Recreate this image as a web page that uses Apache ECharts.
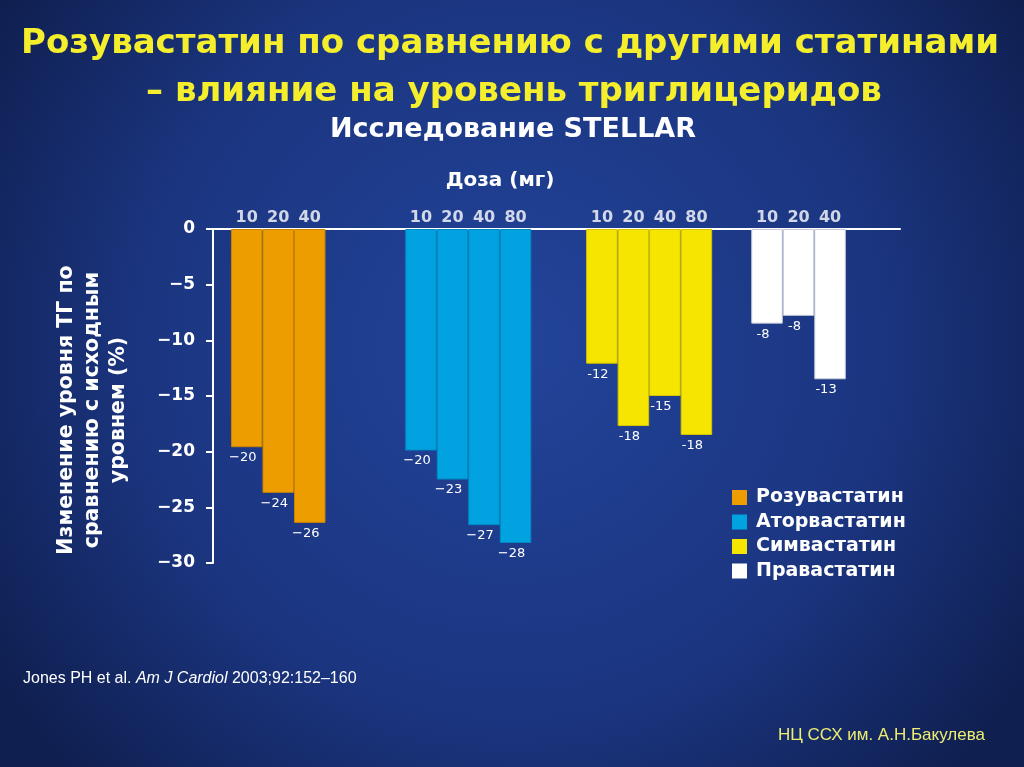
<!DOCTYPE html>
<html><head><meta charset="utf-8">
<script src="https://cdn.jsdelivr.net/npm/echarts@6/dist/echarts.min.js"></script>
<style>html,body{margin:0;padding:0;background:#14296a}#c{width:1024px;height:767px}</style>
</head><body><div id="c"></div>
<script>
// ---- data ----
const drugs = ['Розувастатин', 'Аторвастатин', 'Симвастатин', 'Правастатин'];
const rosuDoses = ['10', '20', '40'];
const atorDoses = ['10', '20', '40', '80'];
const simvaDoses = ['10', '20', '40', '80'];
const pravaDoses = ['10', '20', '40'];
const rosuValues = [-19.6, -23.7, -26.4];
const atorValues = [-19.9, -22.5, -26.6, -28.2];
const simvaValues = [-12.1, -17.7, -15.0, -18.5];
const pravaValues = [-8.5, -7.8, -13.5];
const rosuLabels = ['−20', '−24', '−26'];
const atorLabels = ['−20', '−23', '−27', '−28'];
const simvaLabels = ['-12', '-18', '-15', '-18'];
const pravaLabels = ['-8', '-8', '-13'];
const yTicks = [0, -5, -10, -15, -20, -25, -30];

// ---- layout / style ----
const colors = ['#EE9D00', '#00A3E0', '#F6E500', '#FFFFFF'];
const borders = ['#C98200', '#0089C4', '#D6C400', '#C8CCD8'];
const groupStart = [0.57, 6.10, 11.84, 17.08]; // in bar-width units
const xExtent = 21.8;
const allDoses = [rosuDoses, atorDoses, simvaDoses, pravaDoses];
const allValues = [rosuValues, atorValues, simvaValues, pravaValues];
const allLabels = [rosuLabels, atorLabels, simvaLabels, pravaLabels];

const chart = echarts.init(document.getElementById('c'));
const barSeries = drugs.map((name, g) => ({
  name, type: 'bar', barWidth: 31.5, barGap: '-100%',
  itemStyle: { color: colors[g], borderColor: borders[g], borderWidth: 1 },
  data: allValues[g].map((v, i) => [groupStart[g] + i + 0.5, v]),
  label: {
    show: true, position: 'bottom', distance: 4, offset: [-4, 0],
    color: '#fff', fontFamily: 'DejaVu Sans', fontSize: 13,
    formatter: p => allLabels[g][p.dataIndex]
  },
  silent: true, animation: false
}));
const doseData = [];
allDoses.forEach((ds, g) => ds.forEach((d, i) => doseData.push({ name: d, value: [groupStart[g] + i + 0.5, 0] })));

const shadow = { shadowColor: 'rgba(0,0,0,0.9)', shadowOffsetX: 2, shadowOffsetY: 2, shadowBlur: 2 };
chart.setOption({
  backgroundColor: {
    type: 'radial', x: 0.5, y: 0.45, r: 0.8,
    colorStops: [{ offset: 0, color: '#22449a' }, { offset: 0.6, color: '#1b3580' }, { offset: 1, color: '#0f1f50' }]
  },
  animation: false,
  grid: { left: 213, right: 124, top: 229, bottom: 204 },
  xAxis: {
    type: 'value', min: 0, max: xExtent,
    axisLine: { onZero: true, lineStyle: { color: '#fff', width: 2 } },
    axisTick: { show: false }, axisLabel: { show: false }, splitLine: { show: false }
  },
  yAxis: {
    type: 'value', min: -30, max: 0, interval: 5,
    axisLine: { show: true, lineStyle: { color: '#fff', width: 2 } },
    axisTick: { show: true, length: 7, lineStyle: { color: '#fff', width: 2 } },
    axisLabel: {
      color: '#fff', fontFamily: 'DejaVu Sans', fontWeight: 'bold', fontSize: 17, margin: 18,
      formatter: v => yTicks.includes(v) ? String(v).replace('-', '−') : ''
    },
    splitLine: { show: false }
  },
  legend: {
    orient: 'vertical', left: 732, top: 488, padding: 0, itemWidth: 15, itemHeight: 15, itemGap: 5.5,
    icon: 'rect', data: drugs, selectedMode: false,
    itemStyle: { borderWidth: 0 },
    textStyle: { color: '#fff', fontFamily: 'DejaVu Sans', fontWeight: 'bold', fontSize: 19, lineHeight: 19, padding: [0, 0, 0, 4] }
  },
  graphic: [
    { type: 'text', x: 510, y: 44, style: Object.assign({ text: 'Розувастатин по сравнению с другими статинами', textAlign: 'center', textVerticalAlign: 'middle', font: 'bold 34px "DejaVu Sans", sans-serif', fill: '#F4EE2C' }, shadow) },
    { type: 'text', x: 514, y: 92, style: Object.assign({ text: '– влияние на уровень триглицеридов', textAlign: 'center', textVerticalAlign: 'middle', font: 'bold 34px "DejaVu Sans", sans-serif', fill: '#F4EE2C' }, shadow) },
    { type: 'text', x: 513, y: 130, style: { text: 'Исследование STELLAR', textAlign: 'center', textVerticalAlign: 'middle', font: 'bold 27px "DejaVu Sans", sans-serif', fill: '#fff', shadowColor: 'rgba(0,0,0,0.8)', shadowOffsetX: 1, shadowOffsetY: 1, shadowBlur: 2 } },
    { type: 'text', x: 500, y: 181, style: { text: 'Доза (мг)', textAlign: 'center', textVerticalAlign: 'middle', font: 'bold 20px "DejaVu Sans", sans-serif', fill: '#fff' } },
    { type: 'text', x: 93, y: 410, rotation: Math.PI / 2, style: { text: 'Изменение уровня ТГ по\nсравнению с исходным\nуровнем (%)', textAlign: 'center', textVerticalAlign: 'middle', font: 'bold 20.5px "DejaVu Sans", sans-serif', lineHeight: 26, fill: '#fff' } },
    { type: 'text', x: 23, y: 679, style: { text: '{a|Jones PH et al. }{i|Am J Cardiol}{a| 2003;92:152–160}', textVerticalAlign: 'middle', fill: '#fff', rich: { a: { fontFamily: 'Liberation Sans', fontSize: 16, color: '#fff' }, i: { fontFamily: 'Liberation Sans', fontSize: 16, fontStyle: 'italic', color: '#fff' } } } },
    { type: 'text', x: 778, y: 735, style: { text: 'НЦ ССХ им. А.Н.Бакулева', textVerticalAlign: 'middle', font: '17px "Liberation Sans", sans-serif', fill: '#EDED72' } }
  ],
  series: barSeries.concat([{
    type: 'scatter', data: doseData, symbolSize: 1, itemStyle: { color: 'rgba(0,0,0,0)' }, silent: true,
    label: { show: true, position: 'top', distance: 3, formatter: '{b}', color: '#fff', fontFamily: 'DejaVu Sans', fontWeight: 'bold', fontSize: 16 }
  }])
});
</script></body></html>
